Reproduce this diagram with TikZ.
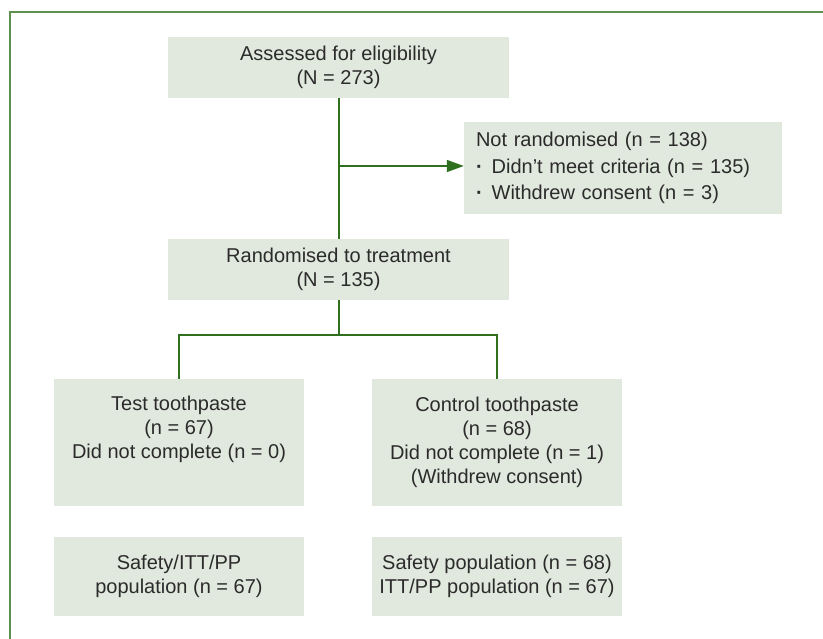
\documentclass[tikz,border=0pt]{standalone}
\usepackage{fontspec}
\setmainfont{Liberation Sans}
\usetikzlibrary{arrows.meta}

\definecolor{boxfill}{HTML}{E1E8DD}
\definecolor{linegreen}{HTML}{2F701F}
\definecolor{framegreen}{HTML}{5E9150}
\definecolor{textgray}{HTML}{2B2B2B}

\newcommand{\flowdot}{\kern3.5pt\textbf{\textperiodcentered}\kern9pt}

\tikzset{
  flowbox/.style={fill=boxfill, text=textgray, inner sep=0pt, align=center,
    font=\fontsize{20}{24}\selectfont},
  flowline/.style={draw=linegreen, line width=1.4pt},
  stemline/.style={draw=linegreen, line width=2pt}
}

\begin{document}
\begin{tikzpicture}[x=1pt, y=-1pt]
  \useasboundingbox (0,0) rectangle (823,639);
  % outer frame (cut at the right and the bottom)
  \draw[framegreen, line width=1.3pt] (10,639) -- (10,12) -- (823,12);

    %----------------------------------------------------------
    % Boxes
    %----------------------------------------------------------
  \node[flowbox, minimum width=341, minimum height=61] (assess) at (338.5,67.5)
    {Assessed for eligibility\\(N = 273)};
  \node[flowbox, minimum width=318, minimum height=92, text width=294,
    align=left, font=\fontsize{20}{23}\selectfont] (notrand) at (623,168)
    {Not randomised (n = 138)\\
     \flowdot Didn't meet criteria (n = 135)\\
     \flowdot Withdrew consent (n = 3)};
  \node[flowbox, minimum width=341, minimum height=61] (rand) at (338.5,269.5)
    {Randomised to treatment\\(N = 135)};

  \node[flowbox, minimum width=250, minimum height=127] (test) at (179,442.5)
    {Test toothpaste\\(n = 67)\\Did not complete (n = 0)\\\strut};
  \node[flowbox, minimum width=250, minimum height=127] (control) at (497,442.5)
    {Control toothpaste\\(n = 68)\\Did not complete (n = 1)\\(Withdrew consent)};

  \node[flowbox, minimum width=250, minimum height=79] (testpop) at (179,576.5)
    {Safety/ITT/PP\\population (n = 67)};
  \node[flowbox, minimum width=250, minimum height=79] (controlpop) at (497,576.5)
    {Safety population (n = 68)\\ITT/PP population (n = 67)};

    %----------------------------------------------------------
    % Connectors
    %----------------------------------------------------------
  \coordinate (exclude) at (assess.south |- 0,166);
  \coordinate (split) at (rand.south |- 0,335);

  \draw[stemline] (assess.south) -- (rand.north);
  \draw[flowline, -{Triangle[length=17pt, width=12pt]}] (exclude) -- (notrand.west |- exclude);
  \draw[stemline] (rand.south) -- (split);
  \draw[flowline] (test.north) |- (split) -| (control.north);
\end{tikzpicture}
\end{document}
